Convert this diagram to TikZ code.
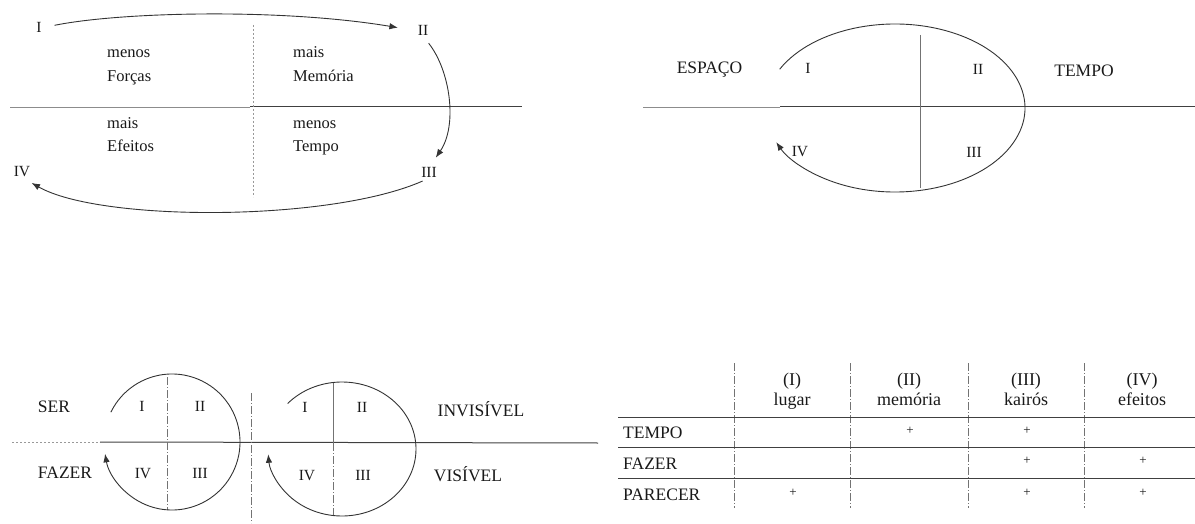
\documentclass[tikz,border=0pt]{standalone}
\usepackage{fontspec}
\setmainfont{Liberation Serif}
\usetikzlibrary{arrows.meta}
\begin{document}
\begin{tikzpicture}[x=1pt,y=-1pt,
  txt/.style={inner sep=0pt, text=black!90},
  lbl/.style={txt, font=\fontsize{16.5}{18}\selectfont, anchor=base west},
  num/.style={txt, font=\fontsize{15.5}{18}\selectfont, anchor=base},
  capl/.style={txt, font=\fontsize{17.5}{20}\selectfont, anchor=base},
  rowl/.style={txt, font=\fontsize{17.5}{20}\selectfont, anchor=base west},
  hd/.style={txt, font=\fontsize{18}{20}\selectfont, anchor=base},
  pl/.style={txt, font=\fontsize{13}{14}\selectfont, anchor=center},
  arr/.style={draw=black!80, line width=0.9pt, -{Latex[length=8.5pt,width=6.5pt]}},
  axis/.style={draw=black!75, line width=1pt},
  faint/.style={draw=black!45, line width=0.9pt},
  dotl/.style={draw=black!40, line width=0.8pt, dash pattern=on 2pt off 2pt},
  dashl/.style={draw=black!55, line width=0.8pt, dash pattern=on 8pt off 2pt on 1pt off 2pt},
  vline/.style={draw=black!55, line width=0.8pt},
]
\useasboundingbox (0,0) rectangle (1195,524);

% ---------- Diagram 1 (top left) ----------
\draw[faint] (10,107) -- (250,107);
\draw[axis] (250,107) -- (522,107);
\draw[dotl] (253,25) -- (253,197);

\node[num] (a1) at (39,33) {I};
\node[num] (a2) at (423,36) {II};
\node[num] (a3) at (429,178) {III};
\node[num] (a4) at (22,177) {IV};

\node[lbl] (t1) at (107,58) {menos};
\node[lbl] (t2) at (107,82) {Forças};
\node[lbl] (t3) at (107,129) {mais};
\node[lbl] (t4) at (107,152) {Efeitos};
\node[lbl] (t5) at (293,58) {mais};
\node[lbl] (t6) at (293,82) {Memória};
\node[lbl] (t7) at (293,129) {menos};
\node[lbl] (t8) at (293,152) {Tempo};

\draw[arr, shorten <=13pt, shorten >=20pt] (a1.east) .. controls (120,12) and (280,8) .. (a2.west);
\draw[arr, shorten <=9pt, shorten >=12pt] (a2.south) .. controls (450,70) and (458,125) .. (a3.north);
\draw[arr, shorten <=7pt, shorten >=11pt] (a3.south) .. controls (330,222) and (100,222) .. (a4.south);

% ---------- Diagram 2 (top right) ----------
\draw[faint] (643,107) -- (780,107);
\draw[axis] (780,107) -- (1195,107);
\draw[vline] (920,35) -- (920,188);
\coordinate (c2) at (895,108);
\draw[arr] ([shift={(207.5:130 and 84)}]c2) arc[start angle=207.5, end angle=516, x radius=130, y radius=84];

\node[capl] (esp) at (709.5,74) {ESPAÇO};
\node[capl] (tmp) at (1084,77) {TEMPO};
\node[num] (b1) at (808,74) {I};
\node[num] (b2) at (978,75) {II};
\node[num] (b4) at (800,157) {IV};
\node[num] (b3) at (974,158) {III};

% ---------- Diagram 3 (bottom left) ----------
\draw[dotl] (12,442) -- (100,442);
\draw[axis] (100,442) -- (598,443);
\draw[dashl] (167,377) -- (167,510);
\draw[dashl] (251,393) -- (251,523);
\draw[vline] (333,382) -- (333,443);
\draw[dashl] (333,443) -- (333,517);

\coordinate (c3) at (172,442);
\draw[arr] ([shift={(206:68 and 68)}]c3) arc[start angle=206, end angle=530, x radius=68, y radius=68];
\coordinate (c4) at (342,449);
\draw[arr] ([shift={(222.8:74 and 67)}]c4) arc[start angle=222.8, end angle=535.5, x radius=74, y radius=67];

\node[capl] (ser) at (54,412) {SER};
\node[capl] (faz) at (65,478) {FAZER};
\node[capl] (inv) at (481,416) {INVISÍVEL};
\node[capl] (vis) at (468,481) {VISÍVEL};
\node[num] (d1) at (142,411) {I};
\node[num] (d2) at (200,411) {II};
\node[num] (d4) at (143,478) {IV};
\node[num] (d3) at (200,478) {III};
\node[num] (e1) at (305,412) {I};
\node[num] (e2) at (362,412) {II};
\node[num] (e4) at (307,480) {IV};
\node[num] (e3) at (363,480) {III};

% ---------- Table (bottom right) ----------
\foreach \xx in {734,850,968,1084} \draw[dashl] (\xx,363) -- (\xx,508);
\foreach \yy in {417,447,478} \draw[axis] (618,\yy) -- (1195,\yy);

\node[hd] (h1a) at (792,385) {(I)};
\node[hd] (h1b) at (792,405) {lugar};
\node[hd] (h2a) at (909,385) {(II)};
\node[hd] (h2b) at (909,405) {memória};
\node[hd] (h3a) at (1026,385) {(III)};
\node[hd] (h3b) at (1026,405) {kairós};
\node[hd] (h4a) at (1142,385) {(IV)};
\node[hd] (h4b) at (1142,405) {efeitos};

\node[rowl] (r1) at (623,438) {TEMPO};
\node[rowl] (r2) at (623,469) {FAZER};
\node[rowl] (r3) at (623,500) {PARECER};

\node[pl] (p1) at (910,431) {+};
\node[pl] (p2) at (1027,431) {+};
\node[pl] (p3) at (1027,461) {+};
\node[pl] (p4) at (1143,461) {+};
\node[pl] (p5) at (793,493) {+};
\node[pl] (p6) at (1027,493) {+};
\node[pl] (p7) at (1143,493) {+};
\end{tikzpicture}
\end{document}
